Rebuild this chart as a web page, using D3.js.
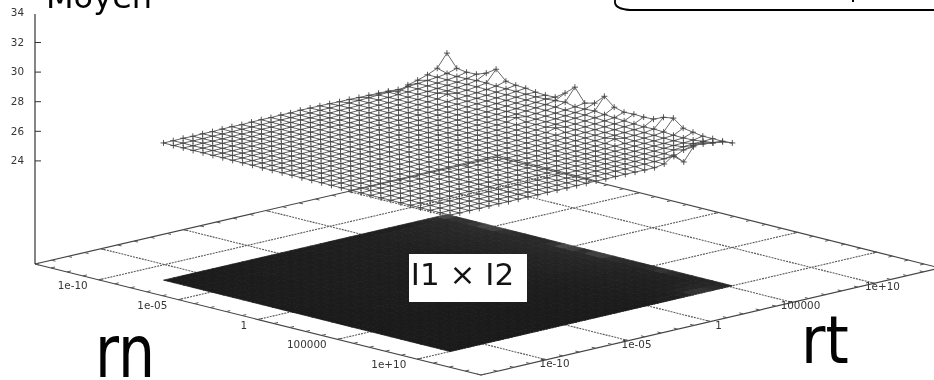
<!DOCTYPE html>
<html>
<head>
<meta charset="utf-8">
<script src="https://d3js.org/d3.v7.min.js"></script>
<style>
  body { margin: 0; background: #fff; }
  text { font-family: "DejaVu Sans", sans-serif; opacity: 0.99; }
  svg { filter: blur(0.45px); }
</style>
</head>
<body>
<div id="my_dataviz"></div>

<script>

// log10 of the grid positions of the mesh
var rnExp = [-8,-7.38,-6.76,-6.14,-5.52,-4.9,-4.28,-3.66,-3.03,-2.41,-1.79,-1.17,-0.55,0.07,0.69,1.31,1.93,2.55,3.17,3.79,4.41,5.03,5.66,6.28,6.9,7.52,8.14,8.76,9.38,10];
var rtExp = [-12,-11.41,-10.81,-10.22,-9.63,-9.03,-8.44,-7.85,-7.25,-6.66,-6.07,-5.48,-4.88,-4.29,-3.7,-3.1,-2.51,-1.92,-1.32,-0.73,-0.14,0.46,1.05,1.64,2.24,2.83,3.42,4.02,4.61,5.2];

// Moyen, one row per rn
var meanRows = [
[26.27,26.27,26.28,26.26,26.28,26.27,26.29,26.30,26.28,26.30,26.31,26.30,26.32,26.31,26.34,26.33,26.33,26.32,26.30,26.30,26.28,26.27,26.26,26.25,26.04,26.36,26.53,26.74,27.03,27.90],
[26.26,26.27,26.27,26.27,26.28,26.28,26.28,26.29,26.29,26.30,26.30,26.31,26.31,26.32,26.32,26.34,26.35,26.36,26.38,26.40,26.43,26.46,26.49,26.52,26.57,26.62,26.68,26.74,26.84,27.04],
[26.27,26.26,26.28,26.27,26.27,26.28,26.29,26.28,26.30,26.29,26.31,26.30,26.32,26.31,26.33,26.33,26.35,26.37,26.38,26.41,26.44,26.46,26.50,26.53,26.58,26.63,26.67,26.73,26.80,26.94],
[26.26,26.27,26.27,26.28,26.28,26.27,26.28,26.30,26.29,26.30,26.30,26.32,26.31,26.33,26.32,26.34,26.36,26.36,26.39,26.41,26.43,26.47,26.49,26.54,26.57,26.62,26.68,26.74,26.82,26.97],
[26.27,26.27,26.26,26.27,26.29,26.28,26.29,26.29,26.30,26.30,26.31,26.31,26.32,26.32,26.34,26.33,26.35,26.37,26.38,26.40,26.44,26.46,26.50,26.56,26.62,26.63,26.69,26.75,26.86,27.21],
[26.26,26.26,26.27,26.28,26.27,26.29,26.28,26.30,26.29,26.31,26.30,26.31,26.33,26.32,26.33,26.34,26.36,26.36,26.39,26.41,26.43,26.47,26.51,26.55,26.72,26.64,26.68,26.76,26.86,27.64],
[26.27,26.27,26.27,26.27,26.28,26.28,26.29,26.28,26.30,26.30,26.31,26.30,26.32,26.33,26.33,26.35,26.35,26.37,26.38,26.40,26.44,26.46,26.49,26.53,26.58,26.62,26.68,26.74,26.82,27.00],
[26.26,26.27,26.28,26.27,26.27,26.28,26.28,26.29,26.30,26.29,26.30,26.31,26.31,26.33,26.32,26.34,26.36,26.36,26.38,26.41,26.43,26.45,26.50,26.53,26.57,26.62,26.67,26.73,26.80,26.89],
[26.26,26.26,26.27,26.27,26.28,26.28,26.29,26.29,26.29,26.31,26.30,26.32,26.32,26.32,26.34,26.33,26.35,26.37,26.37,26.40,26.42,26.46,26.49,26.52,26.57,26.61,26.67,26.72,26.79,26.86],
[26.26,26.26,26.27,26.27,26.27,26.28,26.28,26.30,26.29,26.30,26.31,26.31,26.31,26.33,26.33,26.34,26.35,26.36,26.38,26.39,26.43,26.45,26.48,26.52,26.56,26.60,26.66,26.72,26.77,26.76],
[26.25,26.26,26.26,26.27,26.28,26.27,26.29,26.29,26.30,26.29,26.30,26.32,26.32,26.32,26.33,26.35,26.34,26.37,26.37,26.40,26.42,26.44,26.48,26.51,26.55,26.60,26.65,26.70,26.76,26.72],
[26.25,26.26,26.26,26.26,26.27,26.28,26.28,26.29,26.29,26.30,26.31,26.30,26.31,26.33,26.32,26.34,26.35,26.36,26.37,26.39,26.42,26.44,26.47,26.51,26.55,26.59,26.65,26.70,26.78,26.75],
[26.25,26.25,26.26,26.27,26.27,26.27,26.28,26.28,26.30,26.29,26.30,26.31,26.31,26.32,26.33,26.33,26.35,26.35,26.37,26.39,26.41,26.44,26.47,26.50,26.54,26.60,26.66,26.72,26.84,27.19],
[26.25,26.25,26.26,26.26,26.27,26.27,26.28,26.29,26.29,26.29,26.30,26.30,26.32,26.31,26.33,26.33,26.34,26.36,26.36,26.38,26.41,26.43,26.47,26.62,26.54,26.59,26.65,26.72,26.90,27.76],
[26.24,26.25,26.25,26.26,26.26,26.27,26.27,26.28,26.28,26.30,26.29,26.30,26.31,26.31,26.32,26.32,26.34,26.35,26.36,26.38,26.40,26.43,26.46,26.49,26.53,26.58,26.63,26.68,26.75,26.85],
[26.24,26.24,26.25,26.25,26.26,26.26,26.27,26.27,26.28,26.28,26.29,26.30,26.30,26.31,26.31,26.33,26.33,26.35,26.35,26.37,26.40,26.42,26.45,26.49,26.52,26.57,26.62,26.68,26.76,27.01],
[26.24,26.24,26.24,26.25,26.25,26.26,26.26,26.27,26.27,26.28,26.28,26.29,26.29,26.30,26.31,26.31,26.33,26.34,26.35,26.36,26.39,26.41,26.44,26.48,26.52,26.56,26.62,26.68,26.80,27.64],
[26.23,26.24,26.24,26.24,26.25,26.25,26.26,26.26,26.27,26.27,26.28,26.28,26.29,26.29,26.30,26.31,26.32,26.33,26.34,26.36,26.38,26.40,26.43,26.58,26.50,26.55,26.60,26.66,26.72,27.07],
[26.23,26.23,26.24,26.24,26.24,26.25,26.25,26.26,26.26,26.27,26.27,26.28,26.28,26.29,26.29,26.30,26.31,26.32,26.33,26.35,26.37,26.39,26.42,26.45,26.48,26.52,26.57,26.62,26.68,26.90],
[26.23,26.23,26.23,26.24,26.24,26.24,26.25,26.25,26.26,26.26,26.27,26.27,26.28,26.28,26.29,26.29,26.30,26.31,26.32,26.34,26.35,26.37,26.40,26.43,26.46,26.50,26.54,26.58,26.63,26.93],
[26.22,26.23,26.23,26.23,26.24,26.24,26.24,26.25,26.25,26.26,26.26,26.27,26.27,26.27,26.28,26.29,26.29,26.30,26.31,26.32,26.34,26.36,26.38,26.41,26.44,26.47,26.51,26.55,26.59,26.90],
[26.22,26.22,26.23,26.23,26.23,26.24,26.24,26.24,26.25,26.25,26.26,26.26,26.26,26.27,26.27,26.28,26.28,26.29,26.30,26.31,26.33,26.34,26.36,26.39,26.42,26.45,26.48,26.52,26.56,26.93],
[26.22,26.22,26.22,26.23,26.23,26.23,26.24,26.24,26.24,26.25,26.25,26.25,26.26,26.26,26.27,26.27,26.28,26.28,26.29,26.30,26.31,26.33,26.35,26.37,26.52,26.43,26.46,26.49,26.58,27.22],
[26.22,26.22,26.22,26.22,26.23,26.23,26.23,26.24,26.24,26.24,26.25,26.25,26.25,26.26,26.26,26.27,26.27,26.28,26.28,26.29,26.30,26.32,26.34,26.36,26.38,26.41,26.44,26.47,26.55,27.33],
[26.22,26.22,26.22,26.22,26.22,26.23,26.23,26.23,26.24,26.24,26.24,26.25,26.25,26.25,26.26,26.26,26.27,26.27,26.28,26.29,26.30,26.31,26.33,26.35,26.37,26.40,26.42,26.45,26.49,26.82],
[26.22,26.22,26.22,26.22,26.22,26.22,26.23,26.23,26.23,26.24,26.24,26.24,26.25,26.25,26.25,26.26,26.26,26.27,26.27,26.28,26.29,26.30,26.32,26.34,26.37,26.39,26.41,26.44,26.48,26.71],
[26.21,26.22,26.22,26.22,26.22,26.22,26.22,26.23,26.23,26.23,26.24,26.24,26.24,26.24,26.25,26.25,26.26,26.26,26.27,26.28,26.28,26.30,26.31,26.34,26.36,26.40,26.44,26.46,26.50,26.61],
[26.21,26.21,26.22,26.22,26.22,26.22,26.22,26.22,26.23,26.23,26.23,26.23,26.24,26.24,26.24,26.25,26.25,26.26,26.26,26.27,26.28,26.29,26.31,26.33,26.36,26.46,26.52,26.58,26.58,26.61],
[26.21,26.21,26.21,26.22,26.22,26.22,26.22,26.22,26.22,26.23,26.23,26.23,26.23,26.24,26.24,26.24,26.25,26.25,26.26,26.26,26.27,26.28,26.30,26.33,26.34,26.62,26.78,26.72,26.66,26.60],
[26.22,26.21,26.22,26.21,26.22,26.22,26.21,26.22,26.22,26.21,26.22,26.22,26.21,26.22,26.22,26.22,26.21,26.22,26.22,26.21,26.20,26.20,26.30,26.76,26.13,27.00,27.18,26.95,26.88,26.65]
];

var zTicks = [24, 26, 28, 30, 32, 34];
var logTicks = [-10, -5, 0, 5, 10];
var logLabels = ["1e-10", "1e-05", "1", "100000", "1e+10"];
var minorTicks = d3.range(-14, 15);

var width = 934, height = 380;

var svg = d3.select("#my_dataviz")
  .append("svg")
    .attr("width", width)
    .attr("height", height)
    .style("display", "block");

// floor corners on screen: left, bottom, right and back of the base plane
var corners = {left: [35, 264], bottom: [481, 375], right: [940, 268], back: [497, 157]};

var u = d3.scaleLinear().domain([-14, 14]).range([0, 1]);
var v = d3.scaleLinear().domain([-14, 14]).range([0, 1]);
var z = d3.scaleLinear().domain([17, 34]).range([264, 12.4]);

// rn and rt go through the two log scales, then bilinear onto the floor
function project(rn, rt, mean) {
  var a = u(rn), b = v(rt);
  var lift = mean === undefined ? 0 : z(17) - z(mean);
  var px = (1-a)*(1-b)*corners.left[0] + a*(1-b)*corners.bottom[0] + a*b*corners.right[0] + (1-a)*b*corners.back[0];
  var py = (1-a)*(1-b)*corners.left[1] + a*(1-b)*corners.bottom[1] + a*b*corners.right[1] + (1-a)*b*corners.back[1];
  return [px, py - lift];
}

function seg(p, q, cls) {
  return svg.append("line")
    .attr("x1", p[0]).attr("y1", p[1])
    .attr("x2", q[0]).attr("y2", q[1])
    .attr("class", cls);
}

// dashed grid of the floor
logTicks.forEach(function (t) {
  seg(project(t, -14), project(t, 14), "grid");
  seg(project(-14, t), project(14, t), "grid");
});
svg.selectAll(".grid")
  .attr("stroke", "#5a5a5a")
  .attr("stroke-width", 1.1)
  .attr("stroke-dasharray", "2,1");

// shaded map of the means on the floor
var shade = d3.scaleLinear()
  .domain([26.2, 26.8, 27.9])
  .range(["#1a1a1a", "#2b2b2b", "#808080"])
  .clamp(true);

var cells = [];
meanRows.slice(0, -1).forEach(function (row, i) {
  row.slice(0, -1).forEach(function (m, j) {
    cells.push({i: i, j: j, m: (m + meanRows[i+1][j] + meanRows[i][j+1] + meanRows[i+1][j+1]) / 4});
  });
});
svg.append("g")
  .selectAll("polygon")
  .data(cells)
  .enter()
  .append("polygon")
    .attr("points", function (d) {
      return [project(rnExp[d.i], rtExp[d.j]), project(rnExp[d.i+1], rtExp[d.j]),
              project(rnExp[d.i+1], rtExp[d.j+1]), project(rnExp[d.i], rtExp[d.j+1])].join(" ");
    })
    .attr("fill", function (d) { return shade(d.m); })
    .attr("stroke", function (d) { return shade(d.m); })
    .attr("stroke-width", 0.8);

// border of the floor
[[project(-14,-14), project(14,-14)], [project(14,-14), project(14,14)],
 [project(14,14), project(-14,14)], [project(-14,14), project(-14,-14)]].forEach(function (e) {
  seg(e[0], e[1], "edge");
});
svg.selectAll(".edge").attr("stroke", "#444").attr("stroke-width", 1.2);

// small ticks along the four edges
minorTicks.forEach(function (t) {
  seg(project(t, -14), project(t, -13.75), "tick");
  seg(project(t, 14), project(t, 13.75), "tick");
  seg(project(-14, t), project(-13.75, t), "tick");
  seg(project(14, t), project(13.75, t), "tick");
});
svg.selectAll(".tick").attr("stroke", "#555").attr("stroke-width", 1);

// tick labels on the floor
var labelGroup = svg.append("g")
  .attr("font-size", 10.4)
  .attr("fill", "#333");

labelGroup.selectAll(".rnlab")
  .data(logTicks)
  .enter()
  .append("text")
    .attr("text-anchor", "end")
    .attr("x", function (d) { return project(d, -14)[0] - 11; })
    .attr("y", function (d) { return project(d, -14)[1] + 9; })
    .text(function (d, i) { return logLabels[i]; });

labelGroup.selectAll(".rtlab")
  .data(logTicks)
  .enter()
  .append("text")
    .attr("text-anchor", "middle")
    .attr("x", function (d) { return project(14, d)[0] + 8; })
    .attr("y", function (d) { return project(14, d)[1] + 7; })
    .text(function (d, i) { return logLabels[i]; });

// vertical axis, with the ticks pointing into the plot
var zAxis = svg.append("g")
  .attr("transform", "translate(35,0)")
  .call(d3.axisLeft(z).tickValues(zTicks).tickSizeInner(-6).tickSizeOuter(0).tickPadding(11).tickFormat(d3.format("d")));
zAxis.select(".domain").attr("stroke", "#333").attr("stroke-width", 1.2).attr("d", "M0,264V14");
zAxis.selectAll("line").attr("stroke", "#333");
zAxis.selectAll("line").filter(function (d) { return d === 34; }).remove();
zAxis.selectAll("text")
  .attr("font-family", "DejaVu Sans")
  .attr("font-size", 10.4)
  .attr("fill", "#333");

// the mesh: lines along rn and along rt, a + on every node
var meshLine = d3.line();
var mesh = svg.append("g")
  .attr("fill", "none")
  .attr("stroke", "#666")
  .attr("stroke-width", 1);

meanRows.forEach(function (row, i) {
  mesh.append("path").attr("d", meshLine(row.map(function (m, j) { return project(rnExp[i], rtExp[j], m); })));
});
rtExp.forEach(function (rt, j) {
  mesh.append("path").attr("d", meshLine(rnExp.map(function (rn, i) { return project(rn, rt, meanRows[i][j]); })));
});

var nodes = [];
meanRows.forEach(function (row, i) {
  row.forEach(function (m, j) { nodes.push(project(rnExp[i], rtExp[j], m)); });
});
svg.append("g")
  .attr("fill", "none")
  .attr("stroke", "#444")
  .attr("stroke-width", 0.9)
  .selectAll("path")
  .data(nodes)
  .enter()
  .append("path")
    .attr("transform", function (d) { return "translate(" + d[0] + "," + d[1] + ")"; })
    .attr("d", "M-3,0H3M0,-3V3");

// white box with the instance name
svg.append("rect")
  .attr("x", 409).attr("y", 254)
  .attr("width", 118).attr("height", 48)
  .attr("fill", "#fff");
svg.append("text")
  .attr("x", 462.5).attr("y", 285)
  .attr("text-anchor", "middle")
  .attr("font-size", 31)
  .attr("fill", "#111")
  .text("I1 × I2");

// big axis titles
svg.append("text")
  .attr("transform", "translate(95,377) scale(0.8,1)")
  .attr("font-size", 73)
  .attr("fill", "#000")
  .text("rn");
svg.append("text")
  .attr("transform", "translate(801,363) scale(0.9,1)")
  .attr("font-size", 66)
  .attr("fill", "#000")
  .text("rt");
svg.append("text")
  .attr("x", 46).attr("y", 8)
  .attr("font-size", 32)
  .attr("fill", "#000")
  .text("Moyen");

// bottom of the legend box cut by the top of the picture
svg.append("path")
  .attr("d", "M615,0V3Q616,9 630,10H934")
  .attr("fill", "none")
  .attr("stroke", "#000")
  .attr("stroke-width", 1.8);
svg.append("line")
  .attr("x1", 853).attr("x2", 853)
  .attr("y1", 0).attr("y2", 2)
  .attr("stroke", "#000")
  .attr("stroke-width", 2);

</script>
</body>
</html>
